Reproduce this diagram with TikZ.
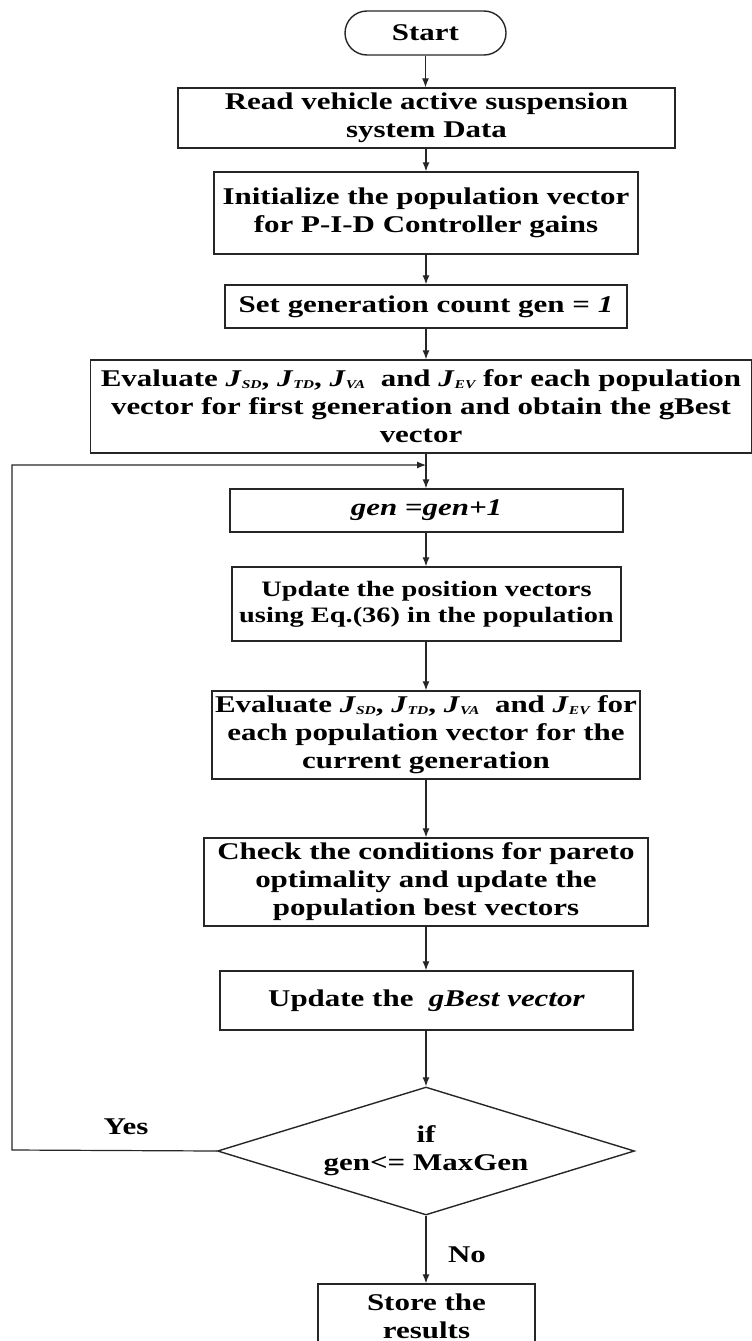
\documentclass[tikz,border=0pt]{standalone}
\usepackage{fontspec}
\setmainfont{Liberation Serif}[FakeStretch=1.29]
\usetikzlibrary{shapes.geometric,arrows.meta}
\newcommand{\Jsub}[1]{\textit{J}\raisebox{-1.5pt}{\fontsize{12}{12}\selectfont\itshape #1}}
\begin{document}
\begin{tikzpicture}[x=1pt,y=-1pt,
  box/.style={draw=black!85, line width=1.4pt, inner sep=0pt, align=center,
    font=\bfseries\fontsize{24}{28}\selectfont},
  arr/.style={draw=black!85, line width=1.2pt, -{Latex[length=9pt,width=7pt]}},
  lbl/.style={font=\bfseries\fontsize{24}{28}\selectfont}]
\useasboundingbox (0,0) rectangle (752,1341);

\node[box, minimum width=161pt, minimum height=44pt, rounded corners=22pt] (start) at (425.5,33) {Start};
\node[box, minimum width=497pt, minimum height=60pt] (read) at (426.5,118) {Read vehicle active suspension\\system Data};
\node[box, minimum width=424pt, minimum height=82pt] (init) at (426,213) {Initialize the population vector\\for P-I-D Controller gains};
\node[box, minimum width=402pt, minimum height=43pt] (setgen) at (426,306.5) {Set generation count gen = \textit{1}};
\node[box, minimum width=661pt, minimum height=93pt] (eval1) at (421,406.5) {Evaluate \Jsub{SD}, \Jsub{TD}, \Jsub{VA}\ \ and \Jsub{EV} for each population\\vector for first generation and obtain the gBest\\vector};
\node[box, minimum width=393pt, minimum height=43pt] (gen1) at (426.5,510.5) {\textit{gen =gen+1}};
\node[box, minimum width=389pt, minimum height=74pt, font=\bfseries\fontsize{22}{26}\selectfont] (upd) at (426.5,604) {Update the position vectors\\using Eq.(36) in the population};
\node[box, minimum width=428pt, minimum height=88pt] (eval2) at (426,735) {Evaluate \Jsub{SD}, \Jsub{TD}, \Jsub{VA}\ \ and \Jsub{EV} for\\each population vector for the\\current generation};
\node[box, minimum width=444pt, minimum height=88pt] (check) at (426,882) {Check the conditions for pareto\\optimality and update the\\population best vectors};
\node[box, minimum width=413pt, minimum height=59pt] (gbest) at (426.5,1000.5) {Update the\ \ \textit{gBest vector}};
\node[box, diamond, aspect=3.26, minimum width=417pt, minimum height=128pt] (cond) at (426,1151) {if\\gen<= MaxGen};
\node[box, minimum width=217pt, minimum height=64pt] (store) at (426.5,1316) {Store the\\results};

\node[lbl] (yes) at (126,1127) {Yes};
\node[lbl] (no) at (467,1255) {No};

\coordinate (join) at (426,465);
\coordinate (lb) at (12,1150);
\coordinate (lt) at (12,465);

\draw[arr] (start.south) -- (start.south |- read.north);
\draw[arr] (read.south -| init.north) -- (init.north);
\draw[arr] (init.south) -- (setgen.north);
\draw[arr] (setgen.south) -- (setgen.south |- eval1.north);
\draw[arr] (join |- eval1.south) -- (join |- gen1.north);
\draw[arr] (cond.west) -- (lb) -- (lt) -- (join);
\draw[arr] (gen1.south -| join) -- (join |- upd.north);
\draw[arr] (upd.south -| join) -- (join |- eval2.north);
\draw[arr] (eval2.south -| join) -- (join |- check.north);
\draw[arr] (check.south -| join) -- (join |- gbest.north);
\draw[arr] (gbest.south -| join) -- (join |- cond.north);
\draw[arr] (cond.south) -- (cond.south |- store.north);
\end{tikzpicture}
\end{document}
